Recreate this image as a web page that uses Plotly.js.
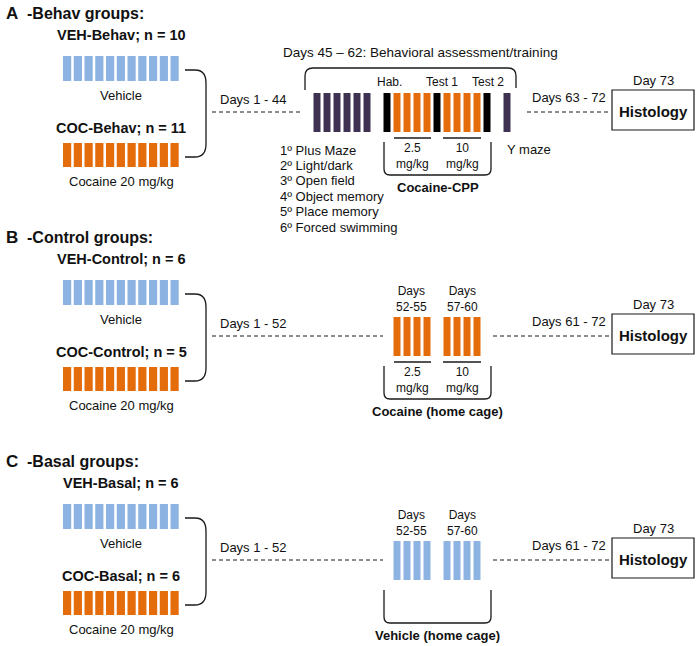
<!DOCTYPE html>
<html><head><meta charset="utf-8">
<script src="https://cdn.plot.ly/plotly-3.0.1.min.js"></script>
<style>html,body{margin:0;padding:0;background:#fff}#chart{width:698px;height:646px}</style>
</head><body><div id="chart"></div>
<script>
// ---------- data ----------
const panelLetters = ["A", "B", "C"];
const panelTitles = ["-Behav groups:", "-Control groups:", "-Basal groups:"];
const vehGroupLabels = ["VEH-Behav; n = 10", "VEH-Control; n = 6", "VEH-Basal; n = 6"];
const cocGroupLabels = ["COC-Behav; n = 11", "COC-Control; n = 5", "COC-Basal; n = 6"];
const vehTreatment = "Vehicle";
const cocTreatment = "Cocaine 20 mg/kg";
const injectionsPerGroup = 11;
const preDays = ["Days 1 - 44", "Days 1 - 52", "Days 1 - 52"];
const postDays = ["Days 63 - 72", "Days 61 - 72", "Days 61 - 72"];
const endDay = "Day 73";
const endpoint = "Histology";
const phaseTitle = "Days 45 \u2013 62: Behavioral assessment/training";
const phaseSlots = [
  ["test","test","test","test","test","test","","cpp","coc","coc","coc","coc","cpp","coc","coc","coc","coc","cpp","","test"],
  ["","","","","","","","","coc","coc","coc","coc","","coc","coc","coc","coc","","",""],
  ["","","","","","","","","veh","veh","veh","veh","","veh","veh","veh","veh","","",""]
];
const cppLabels = ["Hab.", "Test 1", "Test 2"];
const doseLabels = ["2.5<br>mg/kg", "10<br>mg/kg"];
const homeCageDays = ["Days<br>52-55", "Days<br>57-60"];
const bracketLabels = ["Cocaine-CPP", "Cocaine (home cage)", "Vehicle (home cage)"];
const behavTests = ["1\u00ba Plus Maze", "2\u00ba Light/dark", "3\u00ba Open field", "4\u00ba Object memory", "5\u00ba Place memory", "6\u00ba Forced swimming"];
const lastTest = "Y maze";

// ---------- styles / layout geometry ----------
const COLORS = {veh: "#8DB3E2", coc: "#E46C0A", test: "#3F3151", cpp: "#000000"};
const FONT = "Liberation Sans, Arial, Helvetica, sans-serif";
const OFF = [0, 224, 448];
const LINE = "#1a1a1a";

const bars = {};
function addBar(kind, xc, top, h, w) {
  if (!bars[kind]) bars[kind] = {x: [], base: [], y: [], width: []};
  bars[kind].x.push(xc); bars[kind].base.push(top); bars[kind].y.push(h); bars[kind].width.push(w);
}
const ann = [];
function txt(x, y, text, size, opts) {
  opts = opts || {};
  ann.push({x: x, y: y, xref: "x", yref: "y", text: opts.bold ? "<b>" + text + "</b>" : text,
    showarrow: false, xanchor: opts.anchor || "center", yanchor: "middle", align: opts.anchor || "center",
    font: {family: FONT, size: size, color: "#111"}});
}
const shapes = [];
function path(p, w, dash) {
  shapes.push({type: "path", xref: "x", yref: "y", path: p, line: {color: LINE, width: w || 1.3, dash: dash || "solid"}});
}
function line(x0, y0, x1, y1, w, dash) {
  shapes.push({type: "line", xref: "x", yref: "y", x0: x0, y0: y0, x1: x1, y1: y1, line: {color: LINE, width: w || 1.2, dash: dash || "solid"}});
}

panelLetters.forEach(function (L, p) {
  const o = OFF[p];
  txt(4, 13 + o, L, 17, {bold: true, anchor: "left"});
  txt(25, 13 + o, panelTitles[p], 16, {bold: true, anchor: "left"});
  txt(121, 35 + o, vehGroupLabels[p], 14.5, {bold: true});
  txt(121, 95 + o, vehTreatment, 13);
  txt(121, 128 + o, cocGroupLabels[p], 14.5, {bold: true});
  txt(121, 181 + o, cocTreatment, 13);
  for (let i = 0; i < injectionsPerGroup; i++) {
    const xc = 67.1 + i * 10.75;
    addBar("veh", xc, 56 + o, 25, 8.2);
    addBar("coc", xc, 143 + o, 24, 8.2);
  }
  // group bracket
  path("M185," + (70 + o) + " L195," + (70 + o) + " C203," + (70 + o) + " 206," + (75 + o) + " 206," + (83 + o) +
       " L206," + (144 + o) + " C206," + (152 + o) + " 203," + (157 + o) + " 195," + (157 + o) + " L185," + (157 + o));
  // pre-phase
  txt(218, 99 + o, preDays[p], 13, {anchor: "left"});
  const preEnd = p === 0 ? 302 : 383;
  line(212, 112 + o, preEnd, 112 + o, 1, "4px,3px");
  // phase bars
  phaseSlots[p].forEach(function (k, i) {
    if (k) addBar(k, 317 + i * 10, 93 + o, 39, 7);
  });
  // post-phase
  txt(530, 97 + o, postDays[p], 13, {anchor: "left"});
  line(p === 0 ? 527 : 493, 112 + o, 610, 112 + o, 1, "4px,3px");
  txt(653, 80 + o, endDay, 13);
  shapes.push({type: "rect", xref: "x", yref: "y", x0: 612, x1: 694, y0: 90 + o, y1: 130 + o, line: {color: LINE, width: 1.2}});
  txt(653, 111 + o, endpoint, 15, {bold: true});
  // lower bracket
  path("M384," + (142 + o) + " L384," + (169 + o) + " Q384," + (175 + o) + " 390," + (175 + o) +
       " L485," + (175 + o) + " Q491," + (175 + o) + " 491," + (169 + o) + " L491," + (142 + o));
  txt(437.5, 187 + o, bracketLabels[p], 13, {bold: true});
  if (p < 2) {
    line(394, 138 + o, 431, 138 + o, 1.3);
    line(443, 138 + o, 481, 138 + o, 1.3);
    txt(412, 156 + o, doseLabels[0], 12);
    txt(462, 156 + o, doseLabels[1], 12);
  }
  if (p > 0) {
    txt(411, 75 + o, homeCageDays[0], 12);
    txt(462, 75 + o, homeCageDays[1], 12);
  }
});

// Panel A specifics
txt(420, 52, phaseTitle, 13.5);
path("M305,90 L305,76 Q305,68 313,68 L508,68 Q516,68 516,76 L516,88");
txt(389, 82, cppLabels[0], 12);
txt(441.5, 82, cppLabels[1], 12);
txt(488, 82, cppLabels[2], 12);
behavTests.forEach(function (t, i) { txt(278, 150 + i * 15.4, t, 13, {anchor: "left"}); });
txt(505, 149, lastTest, 13, {anchor: "left"});

const traces = Object.keys(bars).map(function (k) {
  return {type: "bar", x: bars[k].x, y: bars[k].y, base: bars[k].base, width: bars[k].width,
    marker: {color: COLORS[k], line: {width: 0}}, hoverinfo: "skip", showlegend: false};
});

const layout = {
  width: 698, height: 646, margin: {l: 0, r: 0, t: 0, b: 0},
  paper_bgcolor: "#fff", plot_bgcolor: "#fff", barmode: "overlay", showlegend: false,
  xaxis: {range: [0, 698], visible: false, fixedrange: true},
  yaxis: {range: [646, 0], visible: false, fixedrange: true},
  shapes: shapes, annotations: ann
};
Plotly.newPlot("chart", traces, layout, {staticPlot: true, displayModeBar: false});
</script>
</body></html>
